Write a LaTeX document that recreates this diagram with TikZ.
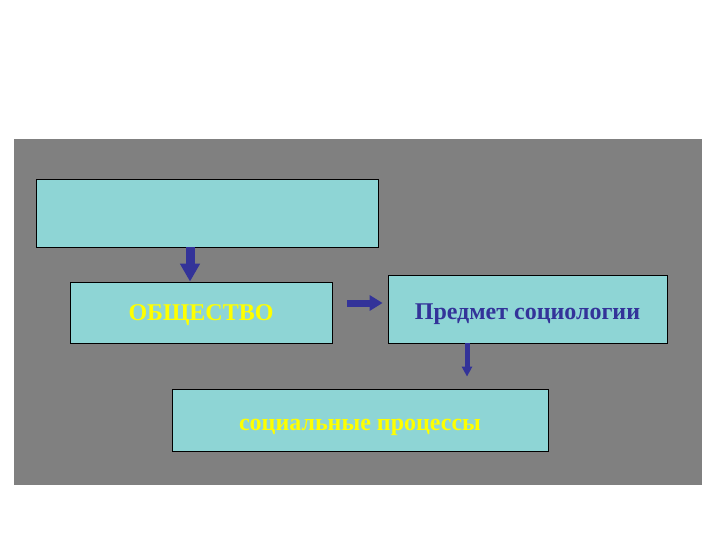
\documentclass[tikz,border=0pt]{standalone}
\usepackage{fontspec}
\setmainfont{Liberation Serif}
\usepackage{xcolor}
\usetikzlibrary{arrows.meta,positioning,calc}
\definecolor{slidegray}{HTML}{808080}
\definecolor{boxteal}{HTML}{8ED5D5}
\definecolor{arrblue}{HTML}{333399}
\definecolor{txtyellow}{HTML}{FFFF00}
% lower a label so its baseline sits #1 below the box centre
\newcommand{\lowtext}[2]{\raisebox{-#1}[0pt][0pt]{#2}}

\begin{document}
\begin{tikzpicture}[
  x=1pt,y=-1pt,
  font=\fontsize{24}{28}\selectfont\bfseries,
  box/.style={draw=black,line width=0.8pt,fill=boxteal,inner sep=0pt,align=center},
  arr/.style={arrblue,line width=#1},
  >=Triangle,
]
\useasboundingbox[fill=white] (0,0) rectangle (720,540);
\fill[slidegray] (14,139) rectangle (702,485);
\node[box,minimum width=342pt,minimum height=68pt] (top) at (207,213) {};
\node[box,minimum width=262pt,minimum height=61pt,text=txtyellow] (obs) at (201,312.5) {\lowtext{7.5pt}{ОБЩЕСТВО}};
\node[box,minimum width=279pt,minimum height=68pt,text=arrblue] (pred) at (527.5,309) {\lowtext{10pt}{Предмет социологии}};
\node[box,minimum width=376pt,minimum height=62pt,text=txtyellow] (soc) at (360,420) {\lowtext{10pt}{социальные процессы}};
\draw[arr=9pt,-{Triangle[width=19pt,length=18pt]}] ([xshift=-17pt]top.south) -- ([xshift=-11pt]obs.north);
\draw[arr=7pt,-{Triangle[width=15pt,length=13pt]}] ([xshift=15pt,yshift=9.5pt]obs.east) -- ([xshift=-5pt,yshift=6pt]pred.west);
\draw[arr=5pt,-{Triangle[width=10pt,length=10pt]}] ([xshift=-60.5pt]pred.south) -- ([xshift=107pt,yshift=12pt]soc.north);
\end{tikzpicture}
\end{document}
